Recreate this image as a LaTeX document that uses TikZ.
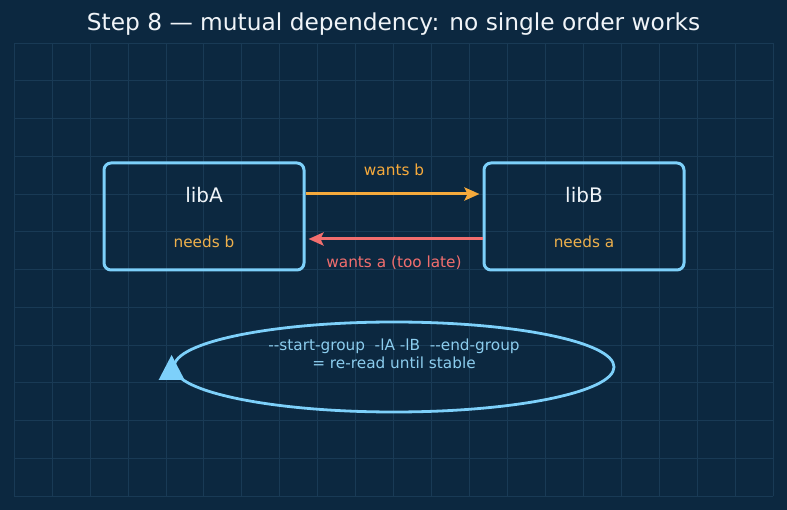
\documentclass[tikz,border=0pt]{standalone}
\usepackage{fontspec}
\setmainfont{DejaVu Sans}
\usepackage{tikz}
\usetikzlibrary{arrows.meta,positioning,shapes.geometric}
\definecolor{bgnavy}{HTML}{0C2840}
\definecolor{gridline}{HTML}{193A55}
\definecolor{skyline}{HTML}{7DD0FA}
\definecolor{cmdtext}{HTML}{8CCDEE}
\definecolor{wantorange}{HTML}{F6AA3C}
\definecolor{needorange}{HTML}{EEB04C}
\definecolor{latered}{HTML}{F26E6E}
\definecolor{titlewhite}{HTML}{F0F4F8}

\begin{document}
\begin{tikzpicture}[x=1pt,y=-1pt,
  libbox/.style={draw=skyline,line width=3pt,rounded corners=7pt,
    minimum width=200pt,minimum height=107pt,inner sep=0pt},
  libname/.style={font=\fontsize{20}{24}\selectfont,text=titlewhite,inner sep=1pt},
  need/.style={font=\fontsize{15.3}{18}\selectfont,text=needorange,inner sep=1pt},
  lbl/.style={font=\fontsize{15.3}{18}\selectfont,inner sep=1pt},
  arr/.style={-{Stealth[length=15pt,width=13pt,inset=3pt]},line width=3pt,shorten >=3pt}]
  \fill[bgnavy] (0,0) rectangle (787,510);
  \useasboundingbox (0,0) rectangle (787,510);
  % background grid
  \foreach \k in {0,...,20}
    \draw[gridline,line width=0.6pt] ({14+37.95*\k},43) -- ({14+37.95*\k},496);
  \foreach \j in {0,...,12}
    \draw[gridline,line width=0.6pt] (14,{43+37.75*\j}) -- (773,{43+37.75*\j});
  \node[font=\fontsize{23.3}{28}\selectfont,text=titlewhite] (title) at (393.5,24)
    {Step 8 — mutual dependency: no single order works};
  % the two libraries
  \node[libbox] (libA) at (204,216.5) {};
  \node[libbox,right=177pt of libA] (libB) {};
  \node[libname] (nameA) at ([yshift=21.5pt]libA.center) {libA};
  \node[need] (needA) at ([yshift=-25.5pt]libA.center) {needs b};
  \node[libname] (nameB) at ([yshift=21.5pt]libB.center) {libB};
  \node[need] (needB) at ([yshift=-25.5pt]libB.center) {needs a};
  \draw[arr,wantorange] ([yshift=22.5pt]libA.east) -- node[lbl,text=wantorange,above=16pt] {wants b}
    ([yshift=22.5pt]libB.west);
  \draw[arr,latered] ([yshift=-22.5pt]libB.west) -- node[lbl,text=latered,below=14pt] {wants a (too late)}
    ([yshift=-22.5pt]libA.east);
  % the group loop
  \node[draw=skyline,line width=2.8pt,ellipse,minimum width=440pt,minimum height=90pt,
    inner sep=0pt] (cycle) at (394,367) {};
  \node[lbl,text=cmdtext,align=center] (cmd) at (394,354)
    {-{}-start-group\ \ -lA -lB\ \ -{}-end-group\\= re-read until stable};
  \fill[skyline] ([shift={(-1,-12)}]cycle.west) -- ([shift={(-14,13)}]cycle.west)
    -- ([shift={(12,13)}]cycle.west) -- cycle;
\end{tikzpicture}
\end{document}
